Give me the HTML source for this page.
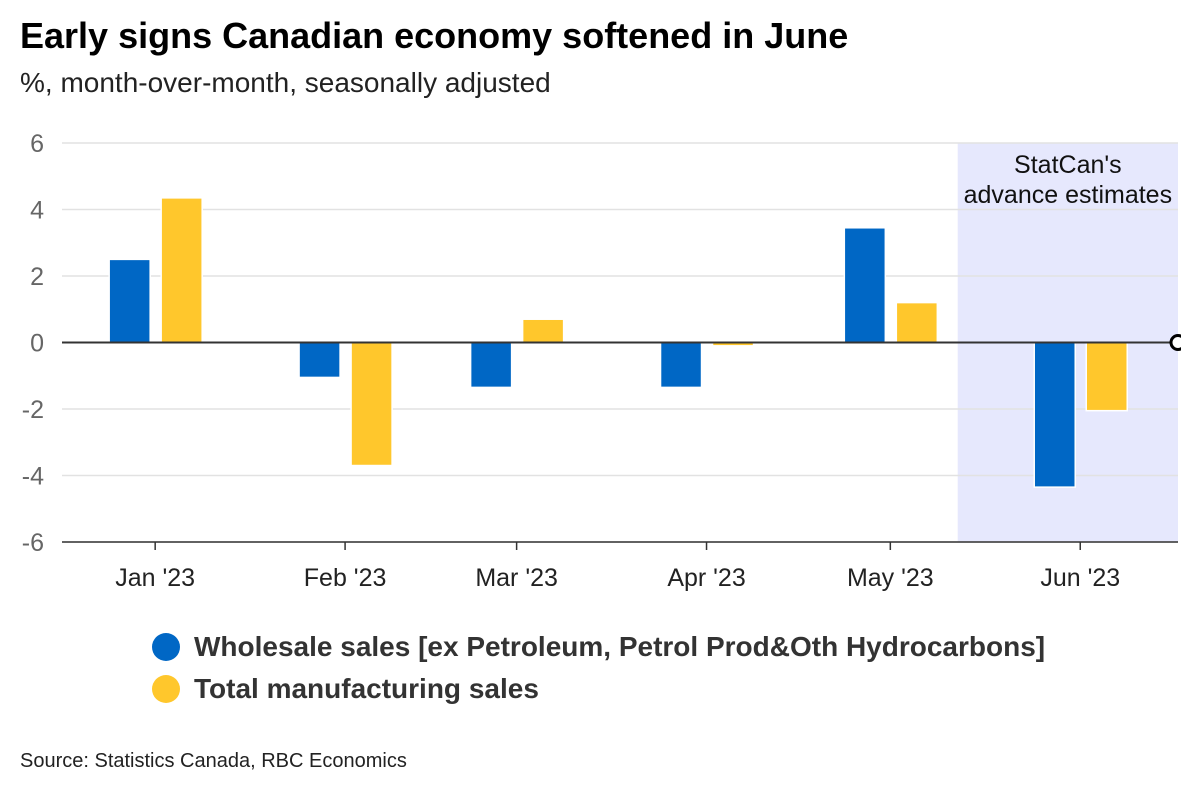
<!DOCTYPE html>
<html><head><meta charset="utf-8"><style>
body{margin:0;background:#fff;font-family:"Liberation Sans",Arial,sans-serif}
#wrap{position:relative;width:1200px;height:800px;overflow:hidden}
</style></head><body>
<div id="wrap">
<div style="position:absolute;left:20px;top:15px;font-size:36px;font-weight:bold;color:#000">Early signs Canadian economy softened in June</div>
<div style="position:absolute;left:20px;top:67px;font-size:28px;color:#222">%, month-over-month, seasonally adjusted</div>
<svg id="chart" width="1200" height="620" style="position:absolute;left:0;top:0"></svg>
<div style="position:absolute;left:152px;top:626px;font-size:28px;font-weight:bold;color:#333">
 <div style="display:flex;align-items:center;height:42px"><span style="display:inline-block;width:28px;height:28px;border-radius:50%;background:#0067c5;margin-right:14px"></span>Wholesale sales [ex Petroleum, Petrol Prod&amp;Oth Hydrocarbons]</div>
 <div style="display:flex;align-items:center;height:42px"><span style="display:inline-block;width:28px;height:28px;border-radius:50%;background:#ffc72c;margin-right:14px"></span>Total manufacturing sales</div>
</div>
<div style="position:absolute;left:20px;top:750px;font-size:20px;color:#222">Source: Statistics Canada, RBC Economics</div>
</div>
<script>
const categories=["2023-01-01","2023-02-01","2023-03-01","2023-04-01","2023-05-01","2023-06-01"];
const tickLabels=["Jan '23","Feb '23","Mar '23","Apr '23","May '23","Jun '23"];
const wholesale=[2.5,-1.05,-1.35,-1.35,3.45,-4.35];
const manufacturing=[4.35,-3.7,0.7,-0.1,1.2,-2.05];
const yTicks=[6,4,2,0,-2,-4,-6];
const shadeStart="2023-05-12";
const svg=document.getElementById('chart');const NS='http://www.w3.org/2000/svg';
const d0=Date.parse("2022-12-16T19:00:00"),d1=Date.parse("2023-06-16T23:00:00");
const X0=62,X1=1178,Y0=542,Y1=143;
const x=d=>X0+(Date.parse(d)-d0)/(d1-d0)*(X1-X0);
const y=v=>Y0+(v+6)/12*(Y1-Y0);
function mk(t,a,p){const e=document.createElementNS(NS,t);for(const k in a)e.setAttribute(k,a[k]);(p||svg).appendChild(e);return e;}
let sh=mk('rect',{x:x(shadeStart),y:Y1,width:X1-x(shadeStart),height:Y0-Y1,fill:'#e6e8fd'});


let t1=mk('text',{x:(x(shadeStart)+X1)/2,y:173,'text-anchor':'middle','font-size':25,fill:'#111'});t1.textContent="StatCan's";


let t2=mk('text',{x:(x(shadeStart)+X1)/2,y:203,'text-anchor':'middle','font-size':25,fill:'#111'});t2.textContent="advance estimates";


yTicks.forEach(v=>{
 if(v!==0){let g=mk('line',{x1:X0,x2:X1,y1:y(v),y2:y(v),stroke:'#e2e2e2','stroke-width':1.5});
 
 }
 let l=mk('text',{x:44,y:y(v)+9,'text-anchor':'end','font-size':25,fill:'#666'});l.textContent=v;
 
 
});
let ax=mk('line',{x1:X0,x2:X1,y1:Y0,y2:Y0,stroke:'#333','stroke-width':1.5});


categories.forEach((c,i)=>{
 const cx=x(c);
 let tk=mk('line',{x1:cx,x2:cx,y1:Y0,y2:Y0+8,stroke:'#333','stroke-width':1.5});
 
 
 let tl=mk('text',{x:cx,y:Y0+44,'text-anchor':'middle','font-size':25,fill:'#222'});tl.textContent=tickLabels[i];
 
 
 const b1=mk('rect',{x:cx-46,width:41,y:Math.min(y(0),y(wholesale[i])),height:Math.abs(y(wholesale[i])-y(0)),fill:'#0067c5',stroke:'#fff','stroke-width':1.5});
 
 
 const b2=mk('rect',{x:cx+6,width:41,y:Math.min(y(0),y(manufacturing[i])),height:Math.abs(y(manufacturing[i])-y(0)),fill:'#ffc72c',stroke:'#fff','stroke-width':1.5});
 
 
});
let z=mk('line',{x1:X0,x2:X1,y1:y(0),y2:y(0),stroke:'#333','stroke-width':2});


let cp=mk('clipPath',{id:'cl'});mk('rect',{x:0,y:0,width:1181,height:620},cp);
let ci=mk('circle',{cx:X1,cy:y(0),r:7,fill:'#fff',stroke:'#000','stroke-width':3,'clip-path':'url(#cl)'});


</script>
</body></html>
